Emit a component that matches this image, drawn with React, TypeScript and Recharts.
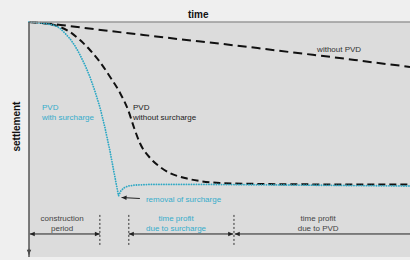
import React from "react";
import {
  LineChart,
  Line,
  XAxis,
  YAxis,
  CartesianGrid,
  ReferenceLine,
  ReferenceDot,
} from "recharts";

// time axis 0..100, settlement axis 0..100 (downwards)
const timeNoPvd = [0, 5, 10, 20, 30, 40, 50, 60, 70, 80, 90, 100];
const settleNoPvd = [0, 0.6, 1.6, 3.6, 5.5, 7.4, 9.2, 11.1, 13.1, 15.0, 17.1, 19.1];

const timePvd = [0, 5.5, 8.1, 10.8, 13.4, 16.0, 18.6, 21.3, 23.9, 26.0, 27.6, 29.1, 31.8, 34.4, 37.0, 40.9, 44.9, 50.1, 60.6, 76.4, 100];
const settlePvd = [0, 0.9, 2.1, 4.3, 7.7, 11.9, 17.0, 23.4, 30.2, 37.4, 45.1, 51.5, 57.9, 61.7, 64.3, 66.4, 67.7, 68.5, 68.9, 69.1, 69.1];

const timeSurcharge = [0, 4.2, 6.8, 8.1, 9.4, 10.8, 12.1, 13.4, 14.7, 16.0, 17.3, 18.6, 19.9, 21.3, 22.6, 23.5, 24.1, 24.9, 26.0, 27.8, 31.8, 44.9, 71.1, 100];
const settleSurcharge = [0, 0.6, 1.5, 2.6, 4.7, 7.2, 10.2, 14.0, 18.3, 23.4, 29.4, 36.2, 44.7, 55.3, 66.4, 74.0, 71.9, 70.6, 69.8, 69.4, 69.1, 69.1, 69.4, 69.8];

// phase boundaries on the time axis
const endConstruction = 18.6;
const endSurcharge = 26.2;
const endPvdOnly = 53.8;

const toRows = (t: number[], s: number[]) => t.map((x, i) => ({ t: x, s: s[i] }));

const TEAL = "#2ea8c4";
const TEAL_TEXT = "#35accb";
const FONT = "'Liberation Sans', Arial, sans-serif";

const Arrow = (props: any) => {
  const { x1, y1, x2, y2, heads = "both", color = "#222" } = props;
  const head = (px: number, py: number, qx: number, qy: number) => {
    const a = Math.atan2(py - qy, px - qx);
    const len = 5;
    const w = 2.2;
    const bx = px - len * Math.cos(a);
    const by = py - len * Math.sin(a);
    const p1 = `${bx + w * Math.sin(a)},${by - w * Math.cos(a)}`;
    const p2 = `${bx - w * Math.sin(a)},${by + w * Math.cos(a)}`;
    return <polygon points={`${px},${py} ${p1} ${p2}`} fill={color} />;
  };
  return (
    <g>
      <line x1={x1} y1={y1} x2={x2} y2={y2} stroke={color} strokeWidth={1} />
      {(heads === "both" || heads === "start") && head(x1, y1, x2, y2)}
      {(heads === "both" || heads === "end") && head(x2, y2, x1, y1)}
    </g>
  );
};

// text anchored at (cx, cy) = vertical centre of first line
const Note = (lines: string[], color: string, anchor: "start" | "middle" = "start", size = 8, bold = false) =>
  (p: any) => (
    <text
      x={p.cx}
      y={p.cy + size * 0.36}
      fill={color}
      fontSize={size}
      fontFamily={FONT}
      fontWeight={bold ? 700 : 400}
      textAnchor={anchor}
    >
      {lines.map((l, i) => (
        <tspan key={i} x={p.cx} dy={i === 0 ? 0 : size * 1.25}>
          {l}
        </tspan>
      ))}
    </text>
  );

const App: React.FC = () => {
  return (
    <div style={{ width: 410, height: 260, background: "#efefef" }}>
      <style>{`body{margin:0}`}</style>
      <LineChart width={410} height={260} margin={{ top: 0, right: 0, left: 0, bottom: 3 }}>
        <CartesianGrid fill="#dcdcdc" horizontal={false} vertical={false} />
        <XAxis
          type="number"
          dataKey="t"
          domain={[0, 100]}
          orientation="top"
          height={22}
          tick={false}
          tickLine={false}
          axisLine={{ stroke: "#9a9a9a", strokeWidth: 1.5 }}
          allowDuplicatedCategory={false}
        />
        <YAxis
          type="number"
          dataKey="s"
          domain={[0, 100]}
          reversed
          width={29}
          tick={false}
          tickLine={false}
          axisLine={{ stroke: "#555", strokeWidth: 1.5 }}
        />

        <Line
          data={toRows(timeNoPvd, settleNoPvd)}
          dataKey="s"
          type="monotone"
          stroke="#111"
          strokeWidth={2}
          strokeDasharray="9 5"
          dot={false}
          isAnimationActive={false}
        />
        <Line
          data={toRows(timePvd, settlePvd)}
          dataKey="s"
          type="monotone"
          stroke="#111"
          strokeWidth={2}
          strokeDasharray="7 4"
          dot={false}
          isAnimationActive={false}
        />
        <Line
          data={toRows(timeSurcharge, settleSurcharge)}
          dataKey="s"
          type="linear"
          stroke={TEAL}
          strokeWidth={1.8}
          strokeDasharray="0.1 2.4"
          strokeLinecap="round"
          dot={false}
          isAnimationActive={false}
        />

        {/* settlement axis arrow */}
        <ReferenceLine
          segment={[{ x: 0, y: 96.5 }, { x: 0, y: 99 }]}
          ifOverflow="visible"
          shape={(p: any) => <Arrow {...p} heads="end" color="#333" />}
        />

        {/* phase boundaries */}
        {[endConstruction, endSurcharge, endPvdOnly].map((x) => (
          <ReferenceLine
            key={x}
            segment={[{ x, y: 82.1 }, { x, y: 94.9 }]}
            stroke="#333"
            strokeWidth={1}
            strokeDasharray="2 2"
          />
        ))}

        <ReferenceLine
          segment={[{ x: 0.2, y: 90.2 }, { x: endConstruction, y: 90.2 }]}
          shape={(p: any) => <Arrow {...p} />}
        />
        <ReferenceLine
          segment={[{ x: endSurcharge, y: 90.2 }, { x: endPvdOnly - 0.2, y: 90.2 }]}
          shape={(p: any) => <Arrow {...p} />}
        />
        <ReferenceLine
          segment={[{ x: endPvdOnly + 0.2, y: 90.2 }, { x: 100, y: 90.2 }]}
          shape={(p: any) => <Arrow {...p} heads="start" />}
        />
        <ReferenceLine
          segment={[{ x: 29.1, y: 75.1 }, { x: 24.3, y: 74.7 }]}
          shape={(p: any) => <Arrow {...p} heads="end" color="#222" />}
        />

        {/* labels */}
        <ReferenceDot x={44.4} y={-3.4} r={0} ifOverflow="visible" shape={Note(["time"], "#111", "middle", 10, true)} />
        <ReferenceDot x={81.4} y={11.5} r={0} ifOverflow="visible" shape={Note(["without PVD"], "#333", "middle")} />
        <ReferenceDot x={27.3} y={36.2} r={0} ifOverflow="visible" shape={Note(["PVD", "without surcharge"], "#222")} />
        <ReferenceDot x={3.4} y={36.2} r={0} ifOverflow="visible" shape={Note(["PVD", "with surcharge"], TEAL_TEXT)} />
        <ReferenceDot x={30.7} y={75.3} r={0} ifOverflow="visible" shape={Note(["removal of surcharge"], TEAL_TEXT)} />
        <ReferenceDot x={8.7} y={83.4} r={0} ifOverflow="visible" shape={Note(["construction", "period"], "#444", "middle")} />
        <ReferenceDot x={38.6} y={83.4} r={0} ifOverflow="visible" shape={Note(["time profit", "due to surcharge"], TEAL_TEXT, "middle")} />
        <ReferenceDot x={75.9} y={83.4} r={0} ifOverflow="visible" shape={Note(["time profit", "due to PVD"], "#444", "middle")} />
        <ReferenceDot
          x={0}
          y={44.5}
          r={0}
          ifOverflow="visible"
          shape={(p: any) => (
            <text
              x={p.cx - 9}
              y={p.cy}
              transform={`rotate(-90 ${p.cx - 9} ${p.cy})`}
              textAnchor="middle"
              fontSize={10}
              fontWeight={700}
              fontFamily={FONT}
              fill="#111"
            >
              settlement
            </text>
          )}
        />
      </LineChart>
    </div>
  );
};

export default App;
